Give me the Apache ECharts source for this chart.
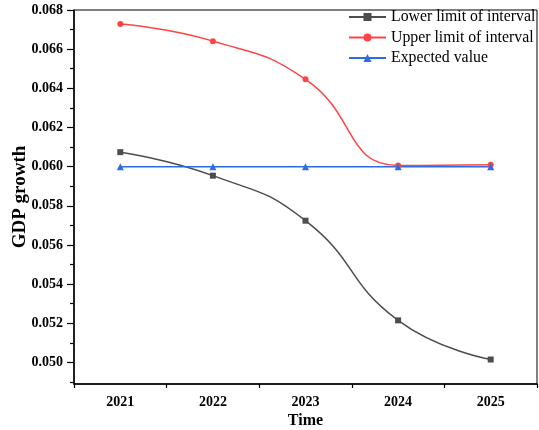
<!DOCTYPE html>
<html>
<head>
<meta charset="utf-8">
<script src="https://cdn.jsdelivr.net/npm/echarts@6/dist/echarts.min.js"></script>
<style>
html,body{margin:0;padding:0;background:#fff;}
#chart{width:539px;height:430px;}
</style>
</head>
<body>
<div id="chart"></div>
<script>
const years = ['2021', '2022', '2023', '2024', '2025'];
const lowerLimit = [0.06074, 0.05954, 0.05724, 0.05215, 0.05015];
const upperLimit = [0.06728, 0.06641, 0.06446, 0.06006, 0.06010];
const expectedValue = [0.06000, 0.06000, 0.06000, 0.06000, 0.06000];
const majorYTicks = [0.050, 0.052, 0.054, 0.056, 0.058, 0.060, 0.062, 0.064, 0.066, 0.068];
const minorYTicks = [0.049, 0.051, 0.053, 0.055, 0.057, 0.059, 0.061, 0.063, 0.065, 0.067];

const serif = '"Liberation Serif", "Times New Roman", serif';
const yMin = 0.0489, yMax = 0.068;

const chart = echarts.init(document.getElementById('chart'), null, {renderer: 'canvas'});
chart.setOption({
  animation: false,
  backgroundColor: '#fff',
  grid: {left: 74, top: 10, right: 2, bottom: 46, show: true, borderColor: '#000', borderWidth: 1,
    backgroundColor: 'transparent', containLabel: false, outerBoundsMode: 'none'},
  legend: {
    orient: 'vertical', left: 348, top: 7, padding: 0,
    itemWidth: 37, itemHeight: 10, itemGap: 0.5,
    textStyle: {fontFamily: serif, fontSize: 15.8, color: '#000', lineHeight: 20},
    data: ['Lower limit of interval', 'Upper limit of interval', 'Expected value']
  },
  xAxis: [{
    type: 'category', data: years, boundaryGap: true,
    name: 'Time', nameLocation: 'middle', nameGap: 29, nameMoveOverlap: false,
    nameTextStyle: {fontFamily: serif, fontSize: 16, fontWeight: 'bold', color: '#000'},
    axisLine: {lineStyle: {color: '#000', width: 1.5}},
    axisTick: {alignWithLabel: true, length: 6, lineStyle: {color: '#000', width: 1.2}},
    axisLabel: {fontFamily: serif, fontSize: 14, fontWeight: 'bold', color: '#000', margin: 11},
    splitLine: {show: false}
  }, {
    type: 'category', data: years, boundaryGap: true, position: 'bottom',
    axisLine: {show: false},
    axisTick: {show: true, interval: 0, length: 4, lineStyle: {color: '#000', width: 1.2}},
    axisLabel: {show: false},
    splitLine: {show: false}
  }],
  yAxis: [{
    type: 'value', min: yMin, max: yMax,
    name: 'GDP growth', nameLocation: 'middle', nameGap: 44, nameMoveOverlap: false,
    nameTextStyle: {fontFamily: serif, fontSize: 19, fontWeight: 'bold', color: '#000'},
    axisLine: {show: true, lineStyle: {color: '#000', width: 1.5}},
    axisTick: {show: true, length: 7, customValues: majorYTicks, lineStyle: {color: '#000', width: 1.2}},
    axisLabel: {customValues: majorYTicks, fontFamily: serif, fontSize: 14, fontWeight: 'bold', color: '#000', margin: 11,
      formatter: v => v.toFixed(3)},
    splitLine: {show: false}
  }, {
    type: 'value', min: yMin, max: yMax, position: 'left',
    axisLine: {show: false},
    axisTick: {show: true, length: 4, customValues: minorYTicks, lineStyle: {color: '#000', width: 1.2}},
    axisLabel: {show: false, customValues: minorYTicks},
    splitLine: {show: false}
  }],
  series: [{
    name: 'Lower limit of interval', type: 'line', data: lowerLimit, smooth: 0.5,
    symbol: 'rect', symbolSize: 6, color: '#4d4d4d',
    lineStyle: {width: 1.5, color: '#4d4d4d'}, itemStyle: {color: '#4d4d4d'}
  }, {
    name: 'Upper limit of interval', type: 'line', data: upperLimit, smooth: 0.5,
    symbol: 'circle', symbolSize: 6, color: '#f44',
    lineStyle: {width: 1.5, color: '#f44'}, itemStyle: {color: '#f44'}
  }, {
    name: 'Expected value', type: 'line', data: expectedValue, smooth: 0.5,
    symbol: 'triangle', symbolSize: 7, color: '#2a6de6',
    lineStyle: {width: 1.5, color: '#2a6de6'}, itemStyle: {color: '#2a6de6'}
  }]
});
</script>
</body>
</html>
